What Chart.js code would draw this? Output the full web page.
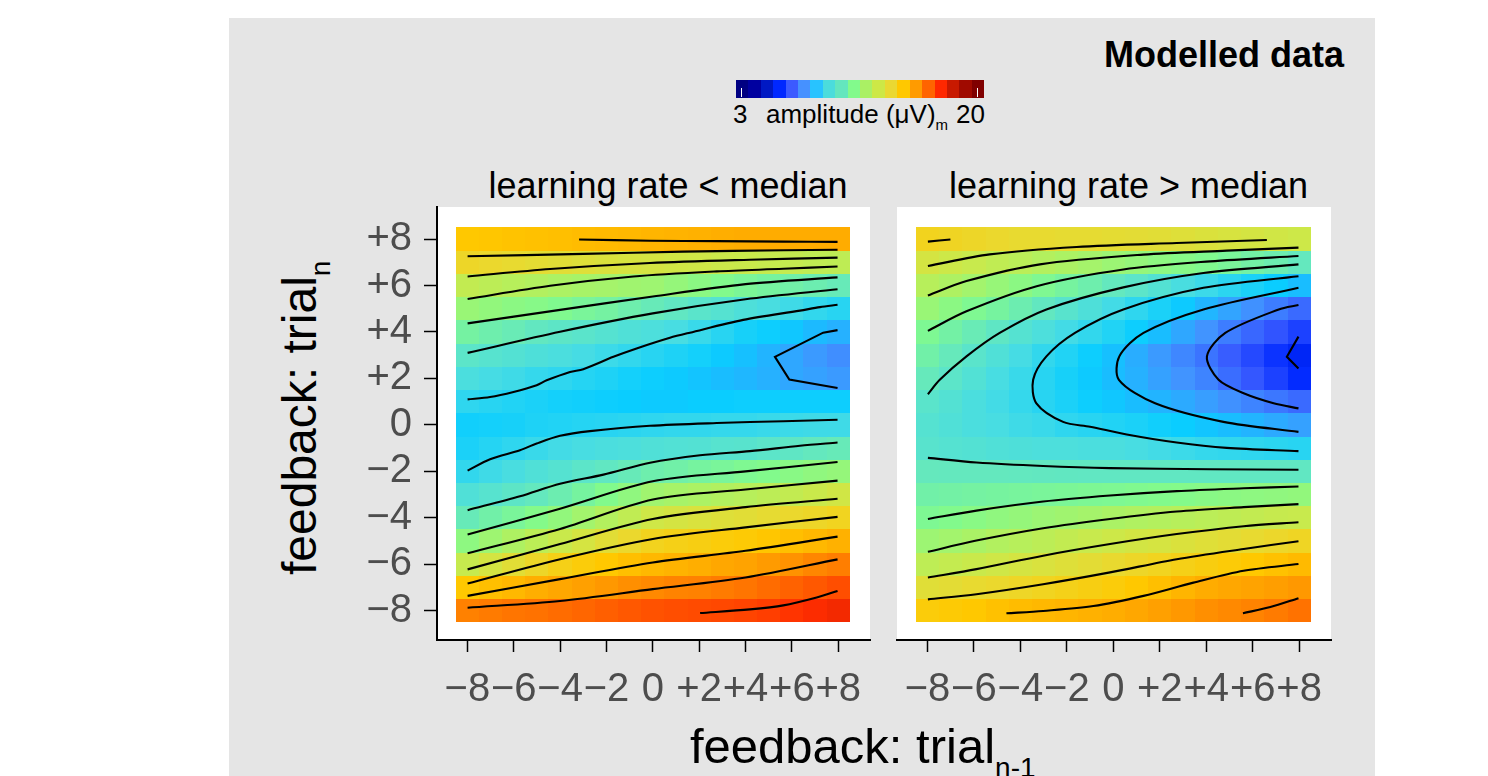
<!DOCTYPE html>
<html><head><meta charset="utf-8">
<script src="https://cdn.jsdelivr.net/npm/chart.js@4.4.1/dist/chart.umd.min.js"></script>
<style>
body{margin:0;background:#fff;width:1488px;height:776px;overflow:hidden;position:relative;font-family:"Liberation Sans",Arial,Helvetica,sans-serif;}
#bg{position:absolute;left:229px;top:18px;width:1146px;height:758px;background:#E5E5E5;}
.t{position:absolute;white-space:nowrap;color:#000;line-height:1;}
canvas{position:absolute;}
#cbar{position:absolute;left:736px;top:80px;width:248px;height:18px;display:flex;}
#cbar div{flex:1 1 0;height:18px;}
.wt{position:absolute;width:1px;height:9px;top:88px;background:#fff;}
</style>
</head><body>
<div id="bg"></div>
<div class="t" style="right:144px;top:36.5px;font-size:36px;font-weight:bold;">Modelled data</div>
<div id="cbar"></div>
<div class="wt" style="left:741px"></div>
<div class="wt" style="left:977px"></div>
<div class="t" style="left:733px;top:101px;font-size:26px;">3</div>
<div class="t" style="left:766px;top:101px;font-size:26px;">amplitude (μV)<span style="font-size:15px;position:relative;top:7px;">m</span></div>
<div class="t" style="left:956px;top:101px;font-size:26px;">20</div>
<div class="t" style="left:668px;top:167.5px;font-size:36px;transform:translateX(-50%);">learning rate &lt; median</div>
<div class="t" style="left:1128.5px;top:167.5px;font-size:36px;transform:translateX(-50%);">learning rate &gt; median</div>
<div class="t" style="left:690px;top:722px;font-size:49px;">feedback: trial<span style="font-size:28px;position:relative;top:14px;">n-1</span></div>
<div class="t" style="left:276px;top:575px;font-size:48px;transform:rotate(-90deg);transform-origin:0 0;">feedback: trial<span style="font-size:28px;position:relative;top:14px;">n</span></div>
<canvas id="cl" width="550" height="560" style="left:330px;top:160px;width:550px;height:560px;"></canvas>
<canvas id="cr" width="470" height="560" style="left:880px;top:160px;width:470px;height:560px;"></canvas>
<script>
// ---------- data ----------
const xCategories = [-8,-7,-6,-5,-4,-3,-2,-1,0,1,2,3,4,5,6,7,8];
const yCategories = [8,7,6,5,4,3,2,1,0,-1,-2,-3,-4,-5,-6,-7,-8];
const tickValues = [-8,-6,-4,-2,0,2,4,6,8];
const tickLabels = ['\u22128','\u22126','\u22124','\u22122','0','+2','+4','+6','+8'];

// amplitude (µV) per cell, rows from trial_n = +8 down to -8, columns trial_n-1 = -8..+8
const leftValues = [
 [14.7,14.75,14.8,14.85,14.9,14.95,15.0,15.05,15.1,15.15,15.2,15.25,15.3,15.3,15.3,15.3,15.3],
 [13.9,13.8,13.7,13.6,13.5,13.4,13.3,13.2,13.1,13.0,12.95,12.85,12.8,12.7,12.65,12.55,12.5],
 [12.6,12.45,12.3,12.15,12.0,11.9,11.85,11.75,11.7,11.5,11.3,11.1,10.9,10.75,10.6,10.45,10.3],
 [11.6,11.45,11.3,11.2,11.05,10.85,10.7,10.5,10.3,10.1,9.9,9.75,9.55,9.4,9.2,9.0,8.85],
 [10.7,10.5,10.35,10.15,10.0,9.9,9.75,9.6,9.5,9.35,9.1,8.85,8.6,8.45,8.3,8.1,7.95],
 [9.95,9.8,9.7,9.55,9.45,9.3,9.15,9.0,8.85,8.7,8.55,8.35,8.2,8.0,7.8,7.6,7.4],
 [9.45,9.3,9.2,9.05,8.95,8.8,8.7,8.55,8.45,8.35,8.25,8.15,8.05,7.95,7.8,7.7,7.6],
 [8.95,8.85,8.75,8.65,8.55,8.5,8.45,8.4,8.35,8.35,8.4,8.4,8.45,8.45,8.45,8.45,8.45],
 [8.5,8.55,8.6,8.7,8.75,8.8,8.85,8.9,8.95,9.0,9.0,9.05,9.05,9.1,9.15,9.2,9.2],
 [8.65,8.8,8.95,9.1,9.25,9.35,9.45,9.5,9.6,9.65,9.7,9.8,9.85,9.95,10.05,10.2,10.3],
 [9.0,9.2,9.4,9.6,9.75,9.95,10.1,10.3,10.5,10.6,10.75,10.85,11.0,11.1,11.25,11.4,11.5],
 [9.6,9.8,10.0,10.2,10.45,10.75,11.1,11.4,11.75,11.9,12.0,12.15,12.3,12.45,12.6,12.8,13.0],
 [10.3,10.6,10.85,11.15,11.45,11.8,12.2,12.55,12.95,13.1,13.25,13.4,13.5,13.65,13.8,13.9,14.05],
 [11.35,11.7,12.05,12.45,12.8,13.15,13.5,13.8,14.1,14.25,14.35,14.5,14.6,14.75,14.9,15.05,15.2],
 [12.7,13.1,13.5,13.9,14.25,14.5,14.7,14.9,15.05,15.15,15.25,15.4,15.5,15.65,15.8,16.0,16.15],
 [14.7,14.9,15.05,15.25,15.4,15.55,15.7,15.85,15.95,16.05,16.1,16.2,16.3,16.45,16.6,16.75,16.9],
 [16.1,16.2,16.3,16.35,16.45,16.55,16.65,16.75,16.85,16.9,16.95,17.0,17.05,17.15,17.3,17.45,17.6]
];
const rightValues = [
 [14.1,14.0,13.9,13.8,13.7,13.7,13.65,13.65,13.6,13.55,13.5,13.4,13.3,13.2,13.1,13.0,12.9],
 [13.1,12.9,12.75,12.55,12.4,12.2,12.0,11.85,11.65,11.5,11.35,11.2,11.05,10.85,10.65,10.45,10.2],
 [12.3,12.05,11.8,11.55,11.3,11.0,10.75,10.5,10.2,9.95,9.7,9.4,9.15,8.9,8.65,8.4,8.15],
 [11.6,11.3,11.0,10.75,10.45,10.15,9.85,9.55,9.25,8.95,8.65,8.35,8.03,7.75,7.45,7.15,6.85],
 [10.98,10.65,10.35,10.05,9.75,9.5,9.25,9.0,8.75,8.45,8.15,7.8,7.5,7.15,6.8,6.5,6.15],
 [10.6,10.25,9.9,9.6,9.3,9.0,8.75,8.45,8.2,7.9,7.6,7.3,7.0,6.65,6.3,5.9,5.55],
 [10.25,9.95,9.65,9.35,9.1,8.85,8.6,8.35,8.15,7.95,7.7,7.5,7.25,6.9,6.55,6.15,5.75],
 [9.9,9.7,9.45,9.25,9.05,8.85,8.65,8.45,8.3,8.15,8.0,7.85,7.65,7.45,7.25,7.05,6.85],
 [9.75,9.6,9.45,9.35,9.2,9.1,8.95,8.85,8.75,8.65,8.5,8.4,8.27,8.15,8.0,7.85,7.7],
 [9.85,9.75,9.7,9.6,9.55,9.5,9.5,9.45,9.44,9.35,9.25,9.15,9.05,9.0,8.95,8.9,8.85],
 [10.22,10.2,10.2,10.2,10.18,10.15,10.12,10.1,10.1,10.1,10.1,10.1,10.1,10.1,10.1,10.1,10.1],
 [10.6,10.65,10.7,10.75,10.8,10.85,10.9,10.95,10.98,11.05,11.1,11.15,11.23,11.3,11.35,11.4,11.45],
 [10.98,11.1,11.25,11.4,11.5,11.65,11.75,11.85,11.97,12.1,12.2,12.3,12.4,12.5,12.6,12.7,12.75],
 [11.67,11.8,11.95,12.15,12.3,12.45,12.6,12.75,12.9,13.05,13.15,13.3,13.43,13.55,13.7,13.85,13.99],
 [12.49,12.65,12.8,12.95,13.1,13.25,13.4,13.55,13.74,13.9,14.05,14.25,14.4,14.55,14.7,14.85,15.0],
 [13.46,13.55,13.7,13.8,13.93,14.05,14.2,14.35,14.5,14.7,14.9,15.1,15.3,15.4,15.5,15.6,15.7],
 [14.5,14.6,14.7,14.85,14.95,15.05,15.1,15.2,15.27,15.4,15.55,15.7,15.85,15.95,16.05,16.2,16.35]
];

// contour lines (iso-amplitude), points as [trial_n-1, trial_n]
const leftContours = [
 {level:15, pts:[[-3.18,7.98],[-0.12,7.93],[2.76,7.91],[5.63,7.89],[7.97,7.88]]},
 {level:14, pts:[[-7.99,7.26],[-2.99,7.36],[1.32,7.46],[5.63,7.52],[7.97,7.54]]},
 {level:13, pts:[[-7.99,6.39],[-4.43,6.71],[-0.12,6.97],[4.19,7.11],[7.97,7.2]]},
 {level:12, pts:[[-7.99,5.42],[-4.43,5.99],[-0.84,6.39],[2.76,6.61],[5.63,6.72],[7.97,6.82]]},
 {level:11, pts:[[-7.99,4.37],[-4.0,4.95],[0,5.53],[4.0,6.06],[7.97,6.35]]},
 {level:10, pts:[[-7.99,3.1],[-4.0,4.01],[0,4.8],[4.0,5.41],[7.97,5.84]]},
 {level:9, pts:[[-7.99,1.1],[-7.02,1.2],[-6.01,1.42],[-5.01,1.71],[-4.58,1.92],[-3.57,2.28],[-3.0,2.4],[-1.7,2.93],[-0.7,3.29],[0.74,3.75],[1.6,3.97],[3.9,4.52],[6.35,4.92],[7.21,5.07],[7.97,5.17]]},
 {level:8, sharp:true, pts:[[7.97,4.08],[7.35,3.97],[5.27,2.93],[5.89,1.95],[7.97,1.59]]},
 {level:9, pts:[[-7.99,-1.97],[-7.02,-1.48],[-5.73,-1.09],[-5.01,-0.8],[-4.0,-0.47],[-2.71,-0.27],[-0.12,-0.04],[2.76,0.08],[5.63,0.16],[7.97,0.22]]},
 {level:10, pts:[[-7.99,-3.67],[-5.73,-3.07],[-4.0,-2.53],[-2.13,-2.14],[-0.12,-1.63],[2.04,-1.31],[4.19,-1.13],[6.35,-0.9],[7.97,-0.76]]},
 {level:11, pts:[[-7.99,-4.72],[-4.0,-3.61],[0,-2.43],[4.0,-2.0],[7.97,-1.6]]},
 {level:12, pts:[[-7.99,-5.53],[-4.0,-4.48],[0,-3.21],[4.0,-2.78],[7.97,-2.4]]},
 {level:13, pts:[[-7.99,-6.22],[-4.0,-5.13],[0,-4.05],[4.0,-3.54],[7.97,-3.18]]},
 {level:14, pts:[[-7.99,-6.83],[-4.0,-5.78],[0,-4.91],[4.0,-4.41],[7.97,-3.96]]},
 {level:15, pts:[[-7.99,-7.36],[-4.0,-6.64],[0,-5.92],[4.0,-5.42],[7.97,-4.81]]},
 {level:16, pts:[[-7.99,-7.87],[-4.0,-7.58],[0,-7.07],[4.0,-6.57],[7.97,-5.79]]},
 {level:17, pts:[[2.04,-8.1],[4.19,-7.94],[5.63,-7.77],[7.07,-7.43],[7.97,-7.15]]}
];
const rightContours = [
 {level:14, pts:[[-7.98,7.89],[-7.01,7.98]]},
 {level:13, pts:[[-7.98,6.84],[-5.32,7.34],[-1.58,7.66],[2.73,7.83],[6.61,7.96]]},
 {level:12, pts:[[-7.98,5.57],[-6.32,6.19],[-3.16,6.91],[1.29,7.33],[4.88,7.5],[7.97,7.63]]},
 {level:11, pts:[[-7.98,4.05],[-6.32,4.89],[-3.3,5.97],[0.43,6.69],[4.17,7.04],[7.97,7.27]]},
 {level:10, pts:[[-7.98,1.32],[-7.47,1.94],[-6.32,2.95],[-4.89,3.96],[-2.88,4.97],[0.43,5.92],[3.88,6.54],[7.97,6.91]]},
 {level:9, pts:[[7.97,6.4],[3.88,5.9],[0.43,4.97],[-1.65,3.96],[-2.88,2.95],[-3.45,1.94],[-3.31,0.93],[-2.16,0.13],[-1.0,-0.08],[0.58,-0.41],[2.73,-0.76],[4.88,-0.99],[7.97,-1.13]]},
 {level:8, pts:[[7.97,5.9],[3.88,4.97],[1.3,3.96],[0.26,2.95],[0.24,1.94],[1.8,0.93],[4.74,0.13],[7.97,-0.3]]},
 {level:7, pts:[[7.97,5.16],[7.12,4.97],[4.82,3.96],[4.03,2.95],[4.53,1.94],[5.61,1.36],[6.9,0.93],[7.97,0.71]]},
 {level:6, sharp:true, pts:[[7.97,3.8],[7.47,2.93],[7.97,2.43]]},
 {level:10, pts:[[-7.98,-1.42],[-5.89,-1.62],[-3.02,-1.77],[-0.14,-1.86],[4.17,-1.91],[7.97,-1.93]]},
 {level:11, pts:[[-7.98,-4.05],[-5.89,-3.69],[-3.02,-3.3],[-0.14,-3.04],[2.73,-2.85],[5.61,-2.73],[7.97,-2.65]]},
 {level:12, pts:[[-7.98,-5.46],[-5.89,-4.98],[-3.02,-4.45],[-0.14,-4.05],[2.73,-3.73],[5.61,-3.54],[7.97,-3.41]]},
 {level:13, pts:[[-7.98,-6.57],[-5.89,-6.21],[-3.02,-5.63],[-0.14,-5.13],[2.73,-4.7],[5.61,-4.36],[7.97,-4.19]]},
 {level:14, pts:[[-7.98,-7.51],[-5.89,-7.29],[-3.02,-6.86],[-0.14,-6.35],[2.73,-5.78],[5.61,-5.34],[7.97,-5.01]]},
 {level:15, pts:[[-4.6,-8.11],[-3.02,-8.01],[-0.86,-7.8],[1.3,-7.36],[3.45,-6.79],[5.61,-6.28],[7.97,-5.99]]},
 {level:16, pts:[[5.58,-8.11],[6.76,-7.84],[7.97,-7.46]]}
];

// colour scale (amplitude -> colour)
const scaleValues = [3.0,3.9,4.8,5.7,6.6,7.5,8.4,9.3,10.2,11.1,12.0,12.9,13.8,14.7,15.6,16.5,17.4,18.3,19.2,20.0];
const scaleColors = [[0,0,130],[0,0,165],[0,25,200],[0,40,255],[55,90,255],[65,148,255],[10,205,255],[70,220,228],[100,232,190],[130,250,140],[172,242,100],[205,232,72],[235,216,45],[255,200,0],[255,158,0],[255,105,0],[255,45,0],[200,25,0],[160,10,0],[128,0,0]];
const legendColors = ['#000082','#0000A0','#0019C4','#0028FF','#3C5AFF','#4691FF','#28C3FF','#4BDCDC','#64E6BE','#82FA8C','#AAF064','#CDE846','#EAD832','#FFC800','#FF9B00','#FF6400','#FF2800','#C81900','#A00A00','#800000'];

// ---------- drawing ----------
function colorFor(v){
  if (v <= scaleValues[0]) return 'rgb('+scaleColors[0].join(',')+')';
  for (let i=1;i<scaleValues.length;i++){
    if (v <= scaleValues[i]){
      const t=(v-scaleValues[i-1])/(scaleValues[i]-scaleValues[i-1]);
      const a=scaleColors[i-1], b=scaleColors[i];
      return 'rgb('+[0,1,2].map(k=>Math.round(a[k]+(b[k]-a[k])*t)).join(',')+')';
    }
  }
  return 'rgb('+scaleColors[scaleColors.length-1].join(',')+')';
}
const cb=document.getElementById('cbar');
legendColors.forEach(c=>{const d=document.createElement('div');d.style.background=c;cb.appendChild(d);});

const heatPlugin = {
  id:'heat',
  beforeDraw(chart){
    const {ctx, chartArea:a} = chart;
    ctx.save(); ctx.fillStyle='#fff'; ctx.fillRect(a.left,a.top,a.right-a.left,a.bottom-a.top); ctx.restore();
  },
  beforeDatasetsDraw(chart, args, opts){
    const {ctx} = chart, xs=chart.scales.x, ys=chart.scales.y;
    const grid = opts.values;
    ctx.save();
    yCategories.forEach((yv,r)=>{
      xCategories.forEach((xv,c)=>{
        const x0=Math.round(xs.getPixelForValue(xv-0.5)), x1=Math.round(xs.getPixelForValue(xv+0.5));
        const y0=Math.round(ys.getPixelForValue(yv+0.5)), y1=Math.round(ys.getPixelForValue(yv-0.5));
        ctx.fillStyle=colorFor(grid[r][c]);
        ctx.fillRect(x0,y0,x1-x0,y1-y0);
      });
    });
    ctx.restore();
  }
};

const tickFont = {family:'"Liberation Sans", Arial, sans-serif', size:40};
function labelFor(v){ const i=tickValues.indexOf(v); return i>=0?tickLabels[i]:''; }

function makePanel(id, values, contours, showY, pad){
  const datasets = contours.map(c=>({
    data:c.pts.map(p=>({x:p[0],y:p[1]})),
    showLine:true, borderColor:'#000', borderWidth:2.1, pointRadius:0,
    tension:c.sharp?0:0.3, fill:false
  }));
  return new Chart(document.getElementById(id),{
    type:'scatter',
    data:{datasets},
    options:{
      responsive:false, animation:false, events:[],
      layout:{padding:pad},
      plugins:{legend:{display:false}, tooltip:{enabled:false}, heat:{values}},
      scales:{
        x:{type:'linear', min:-9.31, max:9.37,
           afterBuildTicks:s=>{s.ticks=tickValues.map(v=>({value:v}));},
           afterFit:s=>{s.height=80;},
           grid:{display:true, drawOnChartArea:false, drawTicks:true, tickLength:12, tickColor:'#000', tickWidth:1.5},
           border:{display:true, color:'#000', width:2},
           ticks:{font:tickFont, color:'#4D4D4D', padding:14, maxRotation:0, autoSkip:false, callback:v=>labelFor(v)}},
        y:{type:'linear', min:-9.26, max:9.38, display:showY,
           afterBuildTicks:s=>{s.ticks=tickValues.map(v=>({value:v}));},
           afterFit:s=>{s.width=showY?107:0;},
           grid:{display:true, drawOnChartArea:false, drawTicks:true, tickLength:13, tickColor:'#000', tickWidth:1.5},
           border:{display:true, color:'#000', width:2},
           ticks:{font:tickFont, color:'#4D4D4D', padding:12, autoSkip:false, callback:v=>labelFor(v)}}
      }
    },
    plugins:[heatPlugin]
  });
}
makePanel('cl', leftValues, leftContours, true, {top:47,right:10,left:0,bottom:0});
makePanel('cr', rightValues, rightContours, false, {top:47,right:19,left:17,bottom:0});
</script>
</body></html>
